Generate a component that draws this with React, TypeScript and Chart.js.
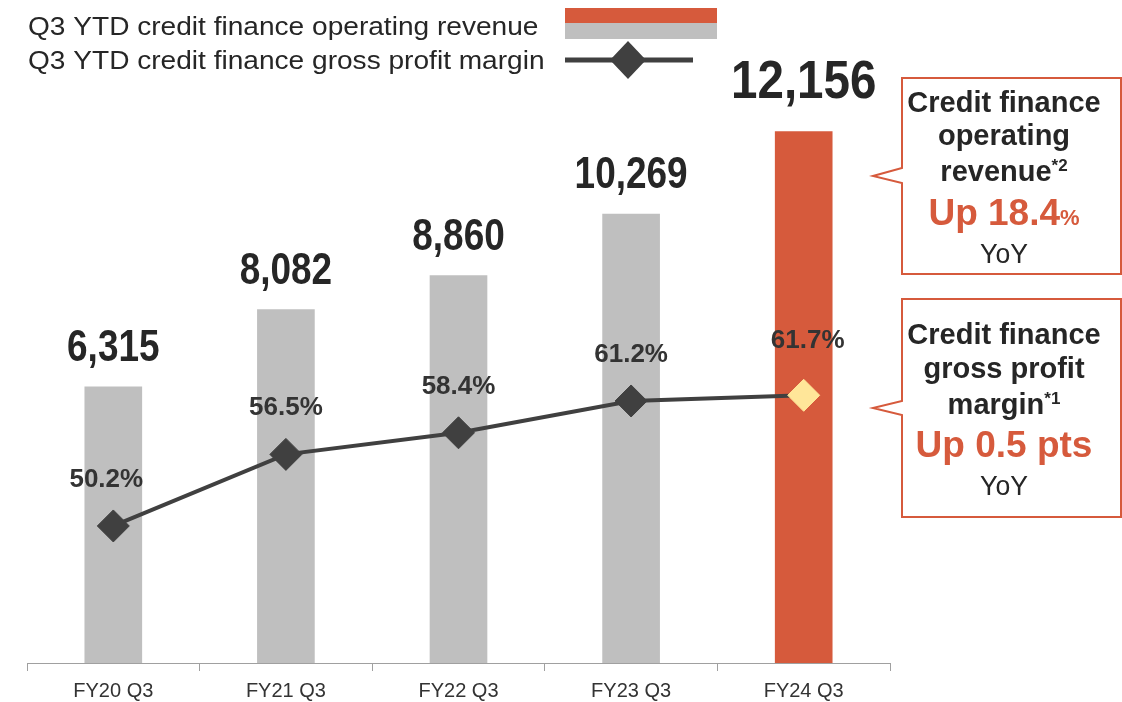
import React, { useEffect, useRef } from "react";
import { Chart, registerables } from "chart.js";

Chart.register(...registerables);

const categories = ["FY20 Q3", "FY21 Q3", "FY22 Q3", "FY23 Q3", "FY24 Q3"];
const revenue = [6315, 8082, 8860, 10269, 12156];
const revenueLabels = ["6,315", "8,082", "8,860", "10,269", "12,156"];
const margin = [50.2, 56.5, 58.4, 61.2, 61.7];
const marginLabels = ["50.2%", "56.5%", "58.4%", "61.2%", "61.7%"];
const legendTexts = [
  "Q3 YTD credit finance operating revenue",
  "Q3 YTD credit finance gross profit margin",
];
const callout1Lines = ["Credit finance", "operating", "revenue"];
const callout1Sup = "*2";
const callout1Up = "Up 18.4";
const callout2Lines = ["Credit finance", "gross profit", "margin"];
const callout2Sup = "*1";
const callout2Up = "Up 0.5 pts";
const yoyText = "YoY";

const ORANGE = "#D65A3C";
const GRAY = "#BFBFBF";
const DARK = "#404040";
const TEXT = "#262626";
const SANS = "'Liberation Sans', Arial, sans-serif";

function scaledText(ctx: CanvasRenderingContext2D, text: string, x: number, y: number, font: string, sx: number, color: string, align: CanvasTextAlign = "center") {
  ctx.save();
  ctx.font = font;
  ctx.fillStyle = color;
  ctx.textAlign = align;
  ctx.textBaseline = "alphabetic";
  ctx.translate(x, y);
  ctx.scale(sx, 1);
  ctx.fillText(text, 0, 0);
  ctx.restore();
}

function textW(ctx: CanvasRenderingContext2D, text: string, font: string) {
  ctx.save();
  ctx.font = font;
  const w = ctx.measureText(text).width;
  ctx.restore();
  return w;
}

function drawCallout(ctx: CanvasRenderingContext2D, left: number, top: number, right: number, bottom: number, tipX: number, tipY: number, baseTop: number, baseBot: number) {
  ctx.save();
  ctx.beginPath();
  ctx.moveTo(left, top);
  ctx.lineTo(right, top);
  ctx.lineTo(right, bottom);
  ctx.lineTo(left, bottom);
  ctx.lineTo(left, baseBot);
  ctx.lineTo(tipX, tipY);
  ctx.lineTo(left, baseTop);
  ctx.closePath();
  ctx.fillStyle = "#ffffff";
  ctx.fill();
  ctx.strokeStyle = ORANGE;
  ctx.lineWidth = 2;
  ctx.stroke();
  ctx.restore();
}

function withSup(ctx: CanvasRenderingContext2D, main: string, sup: string, cx: number, y: number, mainFont: string, supFont: string) {
  const w = textW(ctx, main, mainFont);
  const s = textW(ctx, sup, supFont);
  const start = cx - (w + s) / 2;
  scaledText(ctx, main, start, y, mainFont, 1, TEXT, "left");
  scaledText(ctx, sup, start + w, y - 10, supFont, 1, TEXT, "left");
}

const overlayPlugin = {
  id: "overlay",
  afterDraw(chart: any) {
    const ctx: CanvasRenderingContext2D = chart.ctx;
    // Legend
    const legFont = `26px ${SANS}`;
    ctx.save();
    ctx.textBaseline = "middle";
    scaledText(ctx, legendTexts[0], 28, 35, legFont, 1.08, TEXT, "left");
    scaledText(ctx, legendTexts[1], 28, 69, legFont, 1.08, TEXT, "left");
    ctx.fillStyle = ORANGE;
    ctx.fillRect(565, 8, 152, 15);
    ctx.fillStyle = GRAY;
    ctx.fillRect(565, 23, 152, 16);
    ctx.strokeStyle = DARK;
    ctx.lineWidth = 5;
    ctx.beginPath();
    ctx.moveTo(565, 60);
    ctx.lineTo(693, 60);
    ctx.stroke();
    ctx.fillStyle = DARK;
    ctx.beginPath();
    ctx.moveTo(628, 41);
    ctx.lineTo(646, 60);
    ctx.lineTo(628, 79);
    ctx.lineTo(610, 60);
    ctx.closePath();
    ctx.fill();
    ctx.restore();

    // Bar value labels
    const barMeta = chart.getDatasetMeta(1);
    barMeta.data.forEach((el: any, i: number) => {
      const last = i === revenue.length - 1;
      const font = last ? `bold 54px ${SANS}` : `bold 44px ${SANS}`;
      scaledText(ctx, revenueLabels[i], el.x, el.y - (last ? 34 : 26), font, last ? 0.88 : 0.84, TEXT);
    });

    // Margin labels
    const lineMeta = chart.getDatasetMeta(0);
    lineMeta.data.forEach((el: any, i: number) => {
      const last = i === margin.length - 1;
      const dx = i === 0 ? -7 : last ? 4 : 0;
      scaledText(ctx, marginLabels[i], el.x + dx, el.y - (last ? 47 : 39), `bold 26px ${SANS}`, 1, "#333333");
    });

    // Callouts
    drawCallout(ctx, 902, 78, 1121, 274, 873, 176, 168, 183);
    drawCallout(ctx, 902, 299, 1121, 517, 873, 408, 401, 415);

    const cx = 1004;
    const boldF = `bold 29px ${SANS}`;
    const supF = `bold 17px ${SANS}`;
    scaledText(ctx, callout1Lines[0], cx, 112, boldF, 1, TEXT);
    scaledText(ctx, callout1Lines[1], cx, 145, boldF, 1, TEXT);
    withSup(ctx, callout1Lines[2], callout1Sup, cx, 181, boldF, supF);
    // Up 18.4%
    const upF = `bold 37px ${SANS}`;
    const pctF = `bold 22px ${SANS}`;
    const u1 = textW(ctx, callout1Up, upF);
    const p1 = textW(ctx, "%", pctF);
    const st = cx - (u1 + p1) / 2;
    scaledText(ctx, callout1Up, st, 225, upF, 1, ORANGE, "left");
    scaledText(ctx, "%", st + u1, 225, pctF, 1, ORANGE, "left");
    scaledText(ctx, yoyText, cx, 263, `28px ${SANS}`, 0.95, TEXT);

    scaledText(ctx, callout2Lines[0], cx, 344, boldF, 1, TEXT);
    scaledText(ctx, callout2Lines[1], cx, 378, boldF, 1, TEXT);
    withSup(ctx, callout2Lines[2], callout2Sup, cx, 414, boldF, supF);
    scaledText(ctx, callout2Up, cx, 457, upF, 1, ORANGE);
    scaledText(ctx, yoyText, cx, 495, `28px ${SANS}`, 0.95, TEXT);
  },
};

export default function App() {
  const ref = useRef<HTMLCanvasElement>(null);
  useEffect(() => {
    if (!ref.current) return;
    const pointColors = margin.map((_, i) => (i === margin.length - 1 ? "#FFE699" : DARK));
    const chart = new Chart(ref.current, {
      type: "bar",
      data: {
        labels: categories,
        datasets: [
          {
            type: "line",
            label: legendTexts[1],
            data: margin,
            yAxisID: "y2",
            borderColor: DARK,
            borderWidth: 4,
            pointStyle: "rectRot",
            pointRadius: 16,
            pointHoverRadius: 16,
            pointBackgroundColor: pointColors,
            pointBorderColor: pointColors,
            pointBorderWidth: 1,
            tension: 0,
            order: 0,
          } as any,
          {
            type: "bar",
            label: legendTexts[0],
            data: revenue,
            yAxisID: "y",
            backgroundColor: revenue.map((_, i) => (i === revenue.length - 1 ? ORANGE : GRAY)),
            barThickness: 57,
            order: 1,
          },
        ],
      },
      options: {
        responsive: false,
        animation: false,
        devicePixelRatio: 1,
        layout: { padding: { left: 27, right: 232, top: 51, bottom: 0 } },
        plugins: { legend: { display: false }, tooltip: { enabled: false } },
        events: [],
        scales: {
          x: {
            grid: { display: true, drawOnChartArea: false, drawTicks: true, tickLength: 8, color: "#A0A0A0", offset: true },
            border: { display: true, color: "#A0A0A0", width: 1 },
            ticks: { font: { family: SANS, size: 20 }, color: "#333333", padding: 8 },
            afterFit: (s: any) => {
              s.height = 39;
            },
          },
          y: { display: false, min: 0, max: 14000 },
          y2: { display: false, min: 38.14, max: 92.0 },
        },
      },
      plugins: [overlayPlugin],
    });
    return () => chart.destroy();
  }, []);
  return (
    <div style={{ position: "absolute", left: 0, top: 0, width: 1122, height: 702, background: "#fff" }}>
      <canvas ref={ref} width={1122} height={702} />
    </div>
  );
}
